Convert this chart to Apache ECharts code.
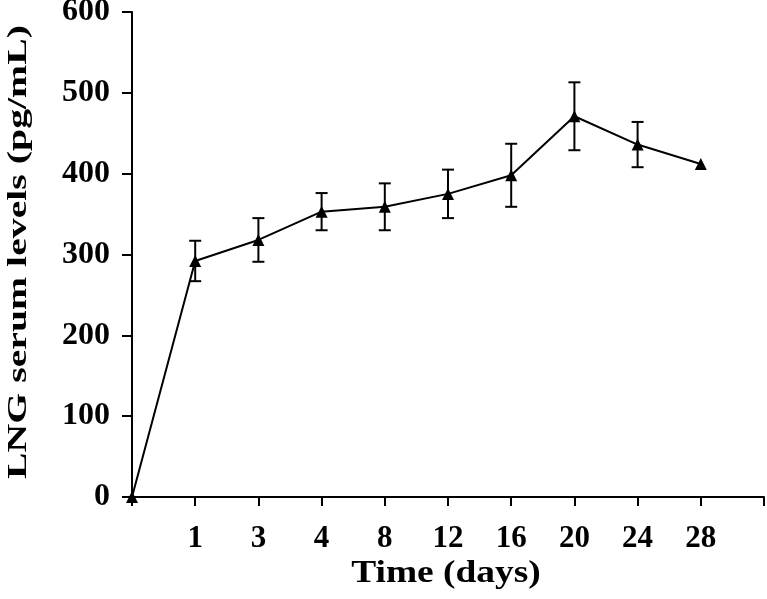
<!DOCTYPE html>
<html><head><meta charset="utf-8">
<script src="https://cdn.jsdelivr.net/npm/echarts@6/dist/echarts.min.js"></script>
<style>html,body{margin:0;padding:0;background:#fff}#c{width:767px;height:599px}</style>
</head><body><div id="c"></div>
<script>
// Data
const categories = ['0', '1', '3', '4', '8', '12', '16', '20', '24', '28', ''];
const means = [0, 292, 318, 353, 359, 375, 398, 471, 436, 412];
const errors = [0, 25, 27, 23, 29, 30, 39, 42, 28, 0];
const yMin = 0, yMax = 600, yInterval = 100;
const xTitle = 'Time (days)';
const yTitle = 'LNG serum levels (pg/mL)';

const errData = [];
means.forEach((m, i) => { if (errors[i] > 0) errData.push([i, m - errors[i], m + errors[i]]); });

const serif = '"Liberation Serif", "Times New Roman", serif';
const chart = echarts.init(document.getElementById('c'), null, {renderer: 'canvas'});
chart.setOption({
  animation: false,
  backgroundColor: '#fff',
  grid: {left: 132, right: 3, top: 12, bottom: 102, containLabel: false, outerBoundsMode: 'none'},
  graphic: [
    {type: 'text', x: 446, y: 574, scaleX: 1.17,
      style: {text: xTitle, fontFamily: serif, fontWeight: 'bold', fontSize: 32, fill: '#000',
        align: 'center', verticalAlign: 'middle'}},
    {type: 'text', x: 19, y: 252, rotation: Math.PI / 2, scaleX: 1.42,
      style: {text: yTitle, fontFamily: serif, fontWeight: 'bold', fontSize: 28, fill: '#000',
        align: 'center', verticalAlign: 'middle'}}
  ],
  xAxis: {
    type: 'category', data: categories, boundaryGap: false,
    axisLine: {lineStyle: {color: '#000', width: 2}},
    axisTick: {show: true, length: 9, lineStyle: {color: '#000', width: 2}, alignWithLabel: true, interval: 0},
    axisLabel: {interval: 0, margin: 26, fontFamily: serif, fontWeight: 'bold', fontSize: 31, color: '#000',
      formatter: (v, i) => i === 0 ? '' : v},
    splitLine: {show: false}
  },
  yAxis: {
    type: 'value', min: yMin, max: yMax, interval: yInterval,
    axisLine: {show: true, lineStyle: {color: '#000', width: 2}},
    axisTick: {show: true, length: 10, lineStyle: {color: '#000', width: 2}},
    axisLabel: {margin: 22, fontFamily: serif, fontWeight: 'bold', fontSize: 32, color: '#000'},
    splitLine: {show: false}
  },
  series: [
    {
      type: 'custom',
      data: errData,
      z: 3,
      renderItem: (params, api) => {
        const x = api.value(0);
        const lo = api.coord([x, api.value(1)]);
        const hi = api.coord([x, api.value(2)]);
        const hw = 6;
        const st = {stroke: '#000', lineWidth: 2};
        return {type: 'group', children: [
          {type: 'line', shape: {x1: lo[0], y1: lo[1], x2: hi[0], y2: hi[1]}, style: st},
          {type: 'line', shape: {x1: lo[0] - hw, y1: lo[1], x2: lo[0] + hw, y2: lo[1]}, style: st},
          {type: 'line', shape: {x1: hi[0] - hw, y1: hi[1], x2: hi[0] + hw, y2: hi[1]}, style: st}
        ]};
      }
    },
    {
      type: 'line',
      data: means,
      symbol: 'triangle', symbolSize: 12,
      itemStyle: {color: '#000'},
      lineStyle: {color: '#000', width: 2},
      z: 4
    }
  ]
});
</script></body></html>
